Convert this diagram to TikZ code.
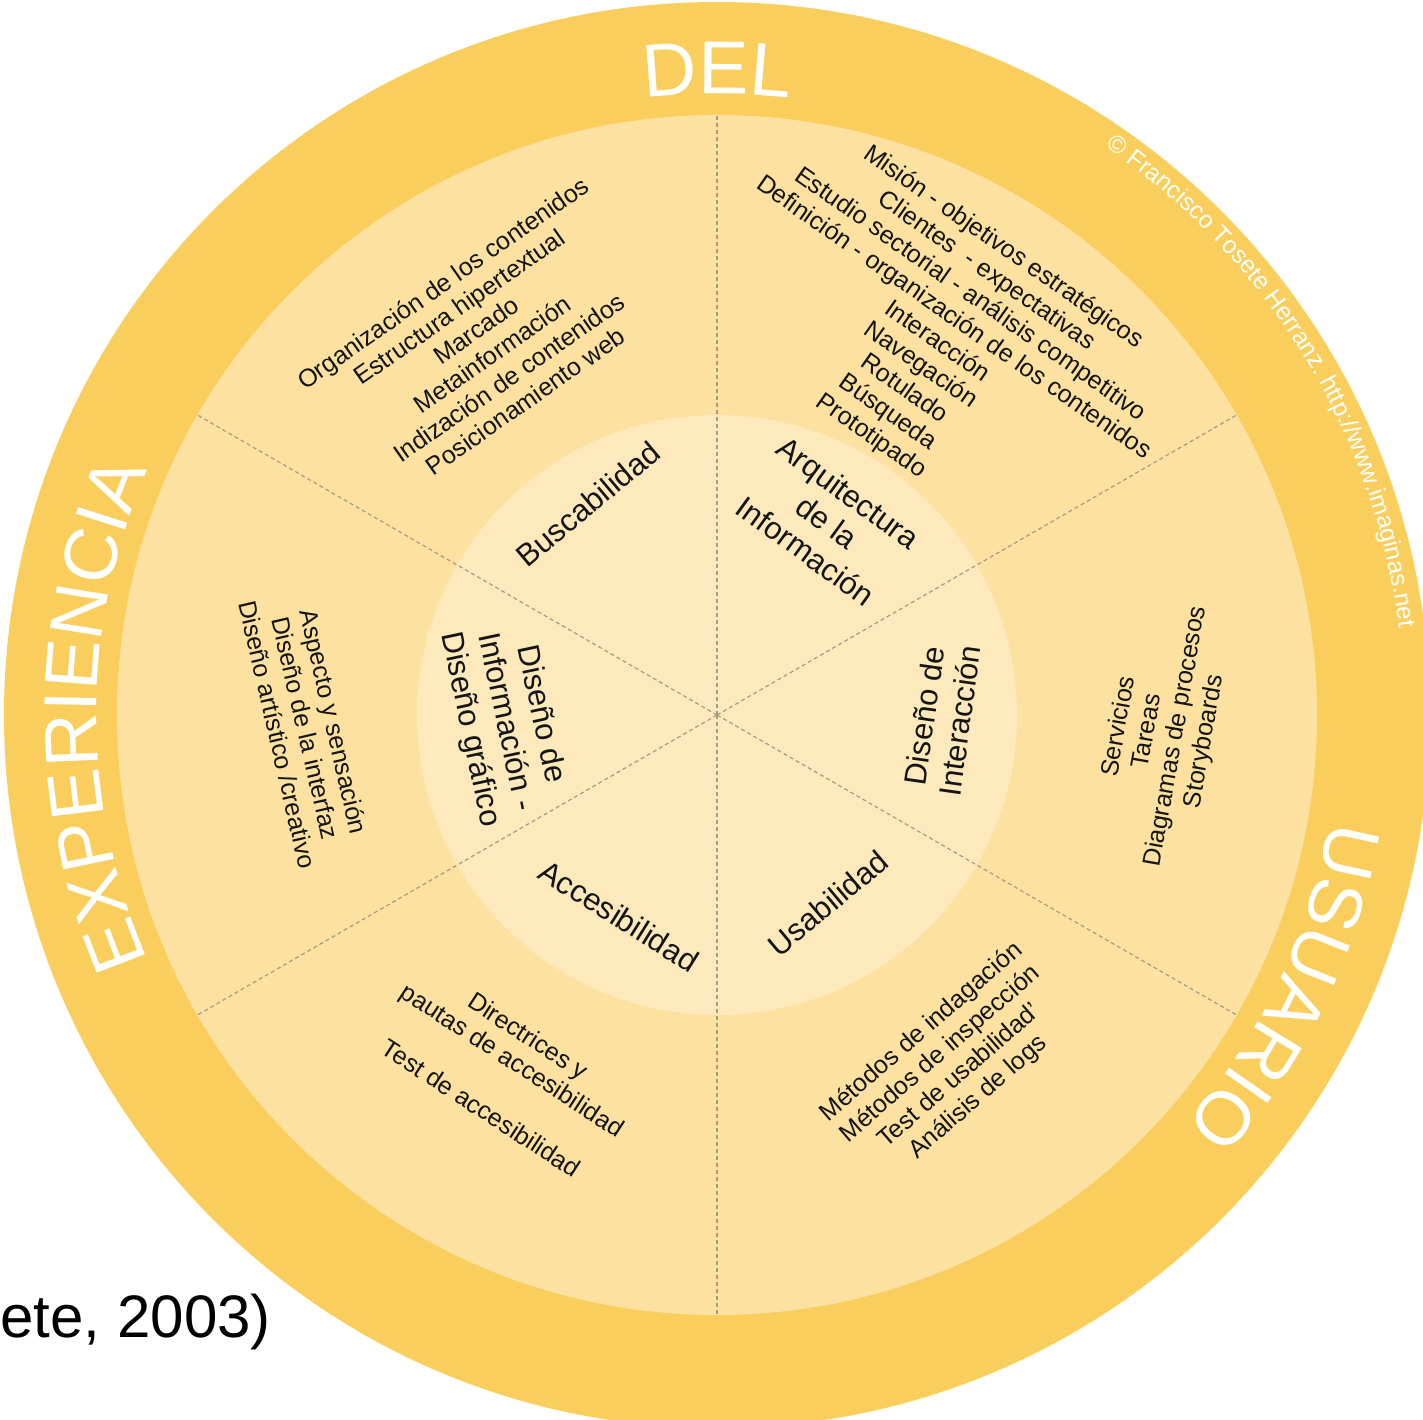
\documentclass[tikz,border=0pt]{standalone}
\usepackage{fontspec}
\setmainfont{Liberation Sans}
\usetikzlibrary{decorations.text,calc}
\definecolor{ringcol}{RGB}{250,206,92}
\definecolor{midcol}{RGB}{252,225,161}
\definecolor{innercol}{RGB}{253,233,188}
\definecolor{ink}{RGB}{20,20,20}
\definecolor{sepcol}{RGB}{165,155,130}
\begin{document}
\begin{tikzpicture}[x=1pt,y=-1pt,
  small/.style={align=center,font=\fontsize{25}{28.8}\selectfont,text=ink,inner sep=0pt},
  big/.style={align=center,font=\fontsize{31}{36}\selectfont,text=ink,inner sep=0pt},
  divider/.style={draw=sepcol,line width=1.2pt,dash pattern=on 4pt off 3pt}]
\useasboundingbox (0,0) rectangle (1423,1419);
\fill[white] (0,0) rectangle (1423,1419);
\coordinate (c) at (717,715);
\fill[ringcol] (c) circle (713pt);
\fill[midcol] (c) circle (600pt);
\fill[innercol] (c) circle (300pt);
\foreach \a/\n in {90/n,30/ne,-30/se,-90/s,150/nw,210/sw}
  \coordinate (r\n) at ($(c)+(\a:600pt)$);
\foreach \n in {n,ne,se,s,nw,sw}
  \draw[divider] (c) -- (r\n);

% curved ring titles
\path[decorate,decoration={text along path,text align=center,
  text={|\fontsize{75}{75}\selectfont\color{white}|DEL}}]
  ($(c)+(100:621pt)$) arc[start angle=100,end angle=80,radius=621pt];
\path[decorate,decoration={text along path,text align=center,
  text={|\fontsize{75}{75}\selectfont\color{white}|EXPERIENCIA}}]
  ($(c)+(210:620pt)$) arc[start angle=210,end angle=150,radius=620pt];
\path[decorate,decoration={text along path,text align=center,
  text={|\fontsize{75}{75}\selectfont\color{white}|USUARIO}}]
  ($(c)+(5:622pt)$) arc[start angle=5,end angle=-56,radius=622pt];
\path[decorate,decoration={text along path,text align=center,
  text={|\fontsize{24.5}{24.5}\selectfont\color{white}|© Francisco Tosete Herranz. http://www.imaginas.net}}]
  ($(c)+(72:688pt)$) arc[start angle=72,end angle=-9,radius=688pt];

% outer sector texts
\node[small,rotate=35] (tl) at (484,342) {Organización de los contenidos\\Estructura hipertextual\\Marcado\\Metainformación\\Indización de contenidos\\Posicionamiento web};
\node[small,rotate=-35] (tr) at (937,342) {Misión - objetivos estratégicos\\Clientes\ \ - expectativas\\Estudio sectorial - análisis competitivo\\Definición - organización de los contenidos\\Interacción\\Navegación\\Rotulado\\Búsqueda\\Prototipado};
\node[small,rotate=-77] (lt) at (306,728) {Aspecto y sensación\\Diseño de la interfaz\\Diseño artístico /creativo};
\node[small,rotate=80] (rt) at (1162,734) {Servicios\\Tareas\\Diagramas de procesos\\Storyboards};
\node[small,rotate=41] (br) at (950,1065) {Métodos de indagación\\Métodos de inspección\\Test de usabilidad'\\Análisis de logs};
\node[small,rotate=-33] (bl) at (505,1072) {Directrices y\\pautas de accesibilidad\\[28.8pt]Test de accesibilidad};

% inner labels
\node[big,rotate=40] (busc) at (588,504) {Buscabilidad};
\node[big,rotate=-36] (arq) at (827,522) {Arquitectura\\de la\\Información};
\node[big,rotate=82] (dint) at (942,718) {Diseño de\\Interacción};
\node[big,rotate=40] (usab) at (828,903) {Usabilidad};
\node[big,rotate=-32] (acce) at (619,916) {Accesibilidad};
\node[big,rotate=-78] (dinf) at (505,722) {Diseño de\\Información -\\Diseño gráfico};

% citation fragment
\node[anchor=base east,font=\fontsize{60}{60}\selectfont,text=black,inner sep=0pt] (cite) at (271,1337) {ete, 2003)};
\end{tikzpicture}
\end{document}
